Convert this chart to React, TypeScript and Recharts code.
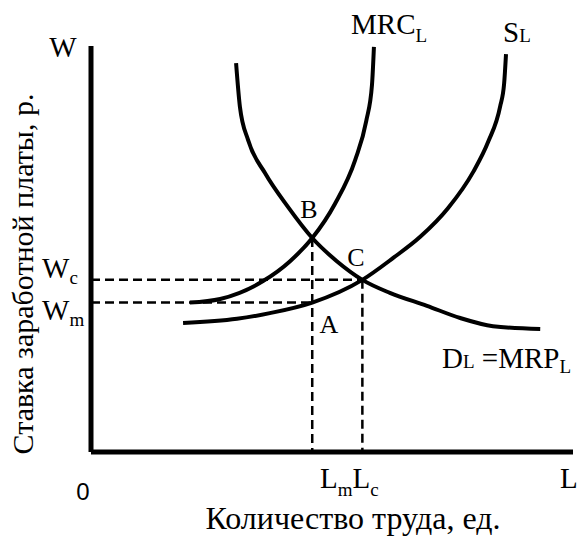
import { ComposedChart, Line, XAxis, YAxis, ReferenceLine } from 'recharts';

// curve points (L = labour, W = wage)
const mrcL = [20.5, 26.8, 35.7, 41.3, 45.9, 50.6, 54.8, 57.1, 58.3, 58.7];
const mrcW = [36.8, 37.7, 42.1, 47.0, 52.7, 61.1, 71.9, 81.5, 90.5, 99.8];

const sL = [19.1, 30.3, 37.1, 45.9, 56.3, 62.7, 68.3, 74.1, 79.3, 82.4, 84.9, 85.7, 86.1];
const sW = [31.8, 32.8, 34.2, 36.8, 42.4, 47.8, 53.0, 60.1, 69.0, 76.4, 85.2, 90.6, 98.0];

const dL = [30.1, 30.9, 32.6, 36.1, 40.9, 45.9, 51.0, 56.3, 62.0, 69.7, 76.6, 83.4, 93.2];
const dW = [95.8, 85.0, 76.8, 68.7, 60.3, 52.7, 47.0, 42.4, 39.2, 36.0, 33.0, 31.0, 30.3];

// equilibrium values
const lM = 45.9;
const lC = 56.3;
const wB = 52.7;
const wC = 42.4;
const wM = 36.8;

const toRows = (ls: number[], ws: number[]) => ls.map((l, i) => ({ l, w: ws[i] }));

const SERIF = 'Liberation Serif';
const dash = '9 5';

export default function App() {
    return (
        <div style={{ position: 'absolute', left: 0, top: 0, background: '#fff' }}>
            <ComposedChart width={577} height={536} margin={{ top: 46, right: 4, bottom: 84, left: 91 }}>
                <XAxis type="number" dataKey="l" domain={[0, 100]} hide allowDuplicatedCategory={false} />
                <YAxis type="number" dataKey="w" domain={[0, 100]} hide />

                <ReferenceLine segment={[{ x: 0, y: wC }, { x: lC, y: wC }]} stroke="#000" strokeWidth={2.5} strokeDasharray={dash} />
                <ReferenceLine segment={[{ x: 0, y: wM }, { x: lM, y: wM }]} stroke="#000" strokeWidth={2.5} strokeDasharray={dash} />
                <ReferenceLine segment={[{ x: lM, y: wB }, { x: lM, y: 0 }]} stroke="#000" strokeWidth={2.5} strokeDasharray={dash} />
                <ReferenceLine segment={[{ x: lC, y: wC }, { x: lC, y: 0 }]} stroke="#000" strokeWidth={2.5} strokeDasharray={dash} />

                <Line data={toRows(mrcL, mrcW)} dataKey="w" type="monotone" stroke="#000" strokeWidth={4} dot={false} isAnimationActive={false} />
                <Line data={toRows(sL, sW)} dataKey="w" type="monotone" stroke="#000" strokeWidth={4} dot={false} isAnimationActive={false} />
                <Line data={toRows(dL, dW)} dataKey="w" type="monotone" stroke="#000" strokeWidth={4} dot={false} isAnimationActive={false} />

                {/* axes */}
                <ReferenceLine segment={[{ x: 0, y: 0 }, { x: 0, y: 100 }]} stroke="#000" strokeWidth={5} />
                <ReferenceLine segment={[{ x: 0, y: 0 }, { x: 100, y: 0 }]} stroke="#000" strokeWidth={5} />

                <text x={63} y={57} fontSize={29} textAnchor="middle" fontFamily={SERIF}>W</text>
                <text x={351} y={34} fontSize={29} fontFamily={SERIF}>MRC<tspan fontSize={19} dy={8}>L</tspan></text>
                <text x={503} y={42} fontSize={29} fontFamily={SERIF}>S<tspan fontSize={19}>L</tspan></text>
                <text x={309} y={218} fontSize={26} textAnchor="middle" fontFamily={SERIF}>B</text>
                <text x={356} y={266} fontSize={26} textAnchor="middle" fontFamily={SERIF}>C</text>
                <text x={329} y={333} fontSize={26} textAnchor="middle" fontFamily={SERIF}>A</text>
                <text x={442} y={368} fontSize={29} fontFamily={SERIF}>D<tspan fontSize={19}>L</tspan> =MRP<tspan fontSize={19} dy={5}>L</tspan></text>
                <text x={42} y={278} fontSize={29} fontFamily={SERIF}>W<tspan fontSize={19} dy={6}>c</tspan></text>
                <text x={42} y={320} fontSize={29} fontFamily={SERIF}>W<tspan fontSize={19} dy={6}>m</tspan></text>
                <text x={320} y={488} fontSize={29} fontFamily={SERIF}>L<tspan fontSize={19} dy={8}>m</tspan><tspan fontSize={29} dy={-8}>L</tspan><tspan fontSize={19} dy={8}>c</tspan></text>
                <text x={560} y={488} fontSize={29} fontFamily={SERIF}>L</text>
                <text x={353} y={529} fontSize={32} textAnchor="middle" fontFamily={SERIF}>Количество труда, ед.</text>
                <text x={33} y={274} fontSize={30} textAnchor="middle" transform="rotate(-90, 33, 274)" fontFamily={SERIF}>Ставка заработной платы, р.</text>
                <text x={83} y={500} fontSize={24} textAnchor="middle" fontFamily="Liberation Sans">0</text>
            </ComposedChart>
        </div>
    );
}
